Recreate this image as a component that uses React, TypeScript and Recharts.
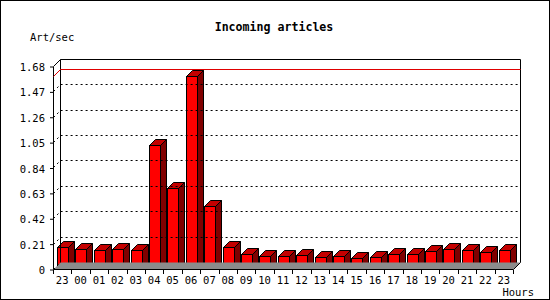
import React from 'react';
import { BarChart, Bar, XAxis, YAxis, ReferenceLine } from 'recharts';

const hours = ['23', '00', '01', '02', '03', '04', '05', '06', '07', '08', '09', '10', '11', '12', '13', '14', '15', '16', '17', '18', '19', '20', '21', '22', '23'];
const artPerSec = [0.184, 0.168, 0.159, 0.168, 0.159, 1.03, 0.674, 1.6, 0.525, 0.184, 0.126, 0.106, 0.106, 0.118, 0.101, 0.106, 0.093, 0.101, 0.126, 0.126, 0.151, 0.168, 0.159, 0.143, 0.159];
const yTicks = [0, 0.21, 0.42, 0.63, 0.84, 1.05, 1.26, 1.47, 1.68];

const data = hours.map((h, i) => ({ hour: h, key: i, rate: artPerSec[i] }));
const maxRate = Math.max(...artPerSec);
const yMax = yTicks[yTicks.length - 1];
// plot area is 212px high but the front axis stops at 1.68 (203px), leaving room for the 3d depth
const domainMax = (yMax * 212) / 203;
const EPS = 0.0001;

const FONT = '"DejaVu Sans Mono", monospace';
const DEPTH = 7;
const BAR_DEPTH = 6;

const sx = (v: number) => Math.round(v) + 0.5;
const sy = (v: number) => Math.round(v) - 0.5;

const Bar3D = (props: any) => {
  const { x, y, width, height } = props;
  if (width == null || height == null) return null;
  const x0 = sx(x);
  const x1 = sx(x + width);
  const y0 = sy(y);
  const y1 = sy(y + height);
  const d = BAR_DEPTH;
  return (
    <g stroke="#000" strokeWidth={1}>
      <polygon points={`${x1},${y0} ${x1 + d},${y0 - d} ${x1 + d},${y1 - d} ${x1},${y1}`} fill="#800000" />
      <polygon points={`${x0},${y0} ${x0 + d},${y0 - d} ${x1 + d},${y0 - d} ${x1},${y0}`} fill="#c40000" />
      <rect x={x0} y={y0} width={x1 - x0} height={y1 - y0} fill="#ff0000" />
    </g>
  );
};

// segment runs from the middle of the first band (at 0) to the middle of the last band (at 1.68)
const frameShape = (props: any) => {
  const { x1, x2, y1, y2 } = props;
  if (x1 == null || x2 == null || y1 == null || y2 == null) return null;
  const half = Math.abs(x2 - x1) / (hours.length - 1) / 2;
  const l = sx(Math.min(x1, x2) - half);
  const r = sx(Math.max(x1, x2) + half);
  const top = sy(Math.min(y1, y2));
  const bot = sy(Math.max(y1, y2));
  const d = DEPTH;
  return (
    <g>
      <path d={`M${l},${bot}L${r},${bot}L${r + d},${bot - d}L${l + d},${bot - d}Z`} fill="#8c8c8c" stroke="none" />
      <path
        d={`M${l},${bot}L${l},${top}L${l + d},${top - d}L${r + d},${top - d}L${r + d},${bot - d}L${r},${bot}L${l},${bot}M${l + d},${top - d}L${l + d},${bot - d}`}
        fill="none"
        stroke="#000"
        strokeWidth={1}
      />
      <path d={`M${l},${bot}L${l + d},${bot - d}`} fill="none" stroke="#000" strokeWidth={1} strokeDasharray="2 3" />
    </g>
  );
};

const gridShape = (color: string, dash?: string) => (props: any) => {
  const { x1, x2, y1 } = props;
  if (x1 == null || y1 == null) return null;
  const l = sx(Math.min(x1, x2));
  const r = sx(Math.max(x1, x2)) - 8;
  const yy = sy(y1);
  const d = DEPTH;
  return (
    <polyline
      points={`${l},${yy} ${l + d},${yy - d} ${r + d},${yy - d}`}
      fill="none"
      stroke={color}
      strokeWidth={1}
      strokeDasharray={dash}
    />
  );
};

const YTick = (props: any) => {
  const { x, y, payload } = props;
  const v = payload.value;
  return (
    <text x={x} y={y + 4} textAnchor="end" fontFamily={FONT} fontSize={10.5} fill="#000">
      {v === 0 ? '0' : v.toFixed(2)}
    </text>
  );
};

const XTick = (props: any) => {
  const { x, y, payload, index, visibleTicksCount } = props;
  const off = payload.offset || 9.2;
  const tx = sx(x - off);
  const last = index === visibleTicksCount - 1;
  return (
    <g>
      <line x1={tx} y1={y} x2={tx} y2={y + 4} stroke="#000" />
      {last && <line x1={sx(x + off)} y1={y} x2={sx(x + off)} y2={y + 4} stroke="#000" />}
      <text x={x} y={y + 14} textAnchor="middle" fontFamily={FONT} fontSize={10.5} fill="#000">
        {hours[payload.value]}
      </text>
    </g>
  );
};

export default function App() {
  return (
    <div style={{ position: 'relative', width: 550, height: 300, background: '#fff' }}>
      <style>{'body{margin:0}'}</style>
      <BarChart
        width={550}
        height={300}
        data={data}
        margin={{ top: 58, right: 29, left: 0, bottom: 0 }}
        barSize={11}
      >
        <XAxis
          dataKey="key"
          height={30}
          padding={{ left: 0, right: 8 }}
          tickSize={0}
          tickMargin={0}
          tickLine={false}
          axisLine={false}
          tick={<XTick />}
          interval={0}
        />
        <YAxis
          width={53}
          domain={[0, domainMax]}
          ticks={yTicks}
          tickSize={3}
          tickMargin={5}
          axisLine={false}
          tickLine={{ stroke: '#000' }}
          tick={<YTick />}
          interval={0}
        />
        <ReferenceLine
          segment={[{ x: 0, y: EPS }, { x: hours.length - 1, y: yMax }]}
          shape={frameShape}
          ifOverflow="visible"
        />
        {yTicks.slice(1, -1).map((t) => (
          <ReferenceLine key={t} y={t} shape={gridShape('#000', '2 3')} ifOverflow="visible" />
        ))}
        <ReferenceLine y={maxRate} shape={gridShape('#e00000')} ifOverflow="visible" />
        <Bar dataKey="rate" shape={<Bar3D />} isAnimationActive={false} />
      </BarChart>
      <svg width={550} height={300} style={{ position: 'absolute', left: 0, top: 0, pointerEvents: 'none' }}>
        <rect x={0.5} y={0.5} width={549} height={299} fill="none" stroke="#000" />
        <text x={274} y={31} textAnchor="middle" fontFamily={FONT} fontSize={11.6} fontWeight="bold" fill="#000">
          Incoming articles
        </text>
        <text x={30} y={41} fontFamily={FONT} fontSize={10.5} fill="#000">
          Art/sec
        </text>
        <text x={534} y={296} textAnchor="end" fontFamily={FONT} fontSize={10.5} fill="#000">
          Hours
        </text>
      </svg>
    </div>
  );
}
